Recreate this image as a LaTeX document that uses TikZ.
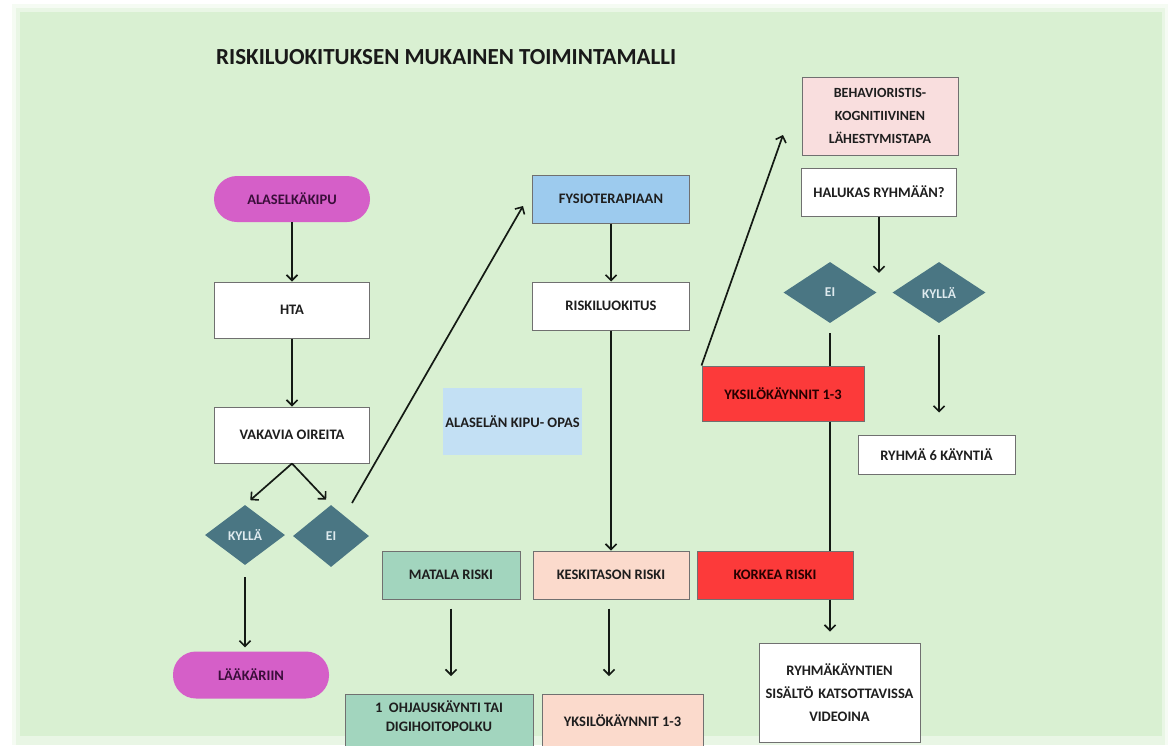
\documentclass[tikz,border=0pt]{standalone}
\usepackage{fontspec}
\setmainfont{Carlito}
\usetikzlibrary{arrows.meta,shapes.geometric,calc}
\definecolor{bggreen}{RGB}{217,240,210}
\definecolor{pillmag}{RGB}{213,95,200}
\definecolor{pilltext}{RGB}{58,14,58}
\definecolor{fysblue}{RGB}{157,203,238}
\definecolor{opasblue}{RGB}{195,224,244}
\definecolor{seagreen}{RGB}{162,213,190}
\definecolor{peach}{RGB}{251,218,204}
\definecolor{redbox}{RGB}{252,58,58}
\definecolor{pinkbox}{RGB}{249,222,222}
\definecolor{tealdia}{RGB}{74,118,131}
\definecolor{diatext}{RGB}{222,234,238}
\definecolor{boxline}{RGB}{112,112,112}
\definecolor{textdark}{RGB}{30,30,30}
\definecolor{linedark}{RGB}{20,26,20}
\begin{document}
\begin{tikzpicture}[x=1pt,y=-1pt,
  boxtxt/.style={font=\bfseries\fontsize{14.5}{19}\selectfont},
  stepbox/.style={boxtxt, draw=boxline, line width=1pt, fill=white, text=textdark, align=center, inner sep=2pt},
  pill/.style={boxtxt, fill=pillmag, text=pilltext, rounded corners=23pt, minimum width=156pt, minimum height=46pt, inner sep=0pt},
  dia/.style={diamond, fill=tealdia, text=diatext, font=\bfseries\fontsize{13.5}{15}\selectfont, inner sep=0pt},
  arr/.style={draw=linedark, line width=1.7pt, -{Straight Barb[length=5.5pt,width=11pt,line width=1.6pt]}},
  ln/.style={draw=linedark, line width=1.7pt}
]
\useasboundingbox (0,0) rectangle (1169,745);
\clip (0,0) rectangle (1169,745);
\fill[white] (0,0) rectangle (1169,745);
\fill[bggreen, opacity=0.25] (12,4) rectangle (1168,745);
\fill[bggreen, opacity=0.4] (16,8) rectangle (1165,745);
\fill[bggreen] (20,12) rectangle (1162,736);

% title
\node[anchor=west, font=\bfseries\fontsize{23}{27}\selectfont, text=black!90, inner sep=0pt] (title) at (216,57) {RISKILUOKITUKSEN MUKAINEN TOIMINTAMALLI};

% left column
\node[pill] (start) at (292,199) {ALASELKÄKIPU};
\node[stepbox, minimum width=155pt, minimum height=56pt] (hta) at (292,310) {HTA};
\node[stepbox, minimum width=155pt, minimum height=56pt] (vak) at (292,435) {VAKAVIA OIREITA};
\node[dia, minimum width=80pt, minimum height=60pt] (kyl1) at (245,535) {KYLLÄ};
\node[dia, minimum width=76pt, minimum height=62pt] (ei1) at (331,536) {EI};
\node[pill, minimum height=47pt] (laak) at (251,675) {LÄÄKÄRIIN};

% middle column
\node[stepbox, fill=fysblue, minimum width=157pt, minimum height=48pt] (fysio) at (611,199) {FYSIOTERAPIAAN};
\node[stepbox, minimum width=157pt, minimum height=48pt] (risk) at (611,306) {RISKILUOKITUS};
\node[boxtxt, fill=opasblue, text=textdark, minimum width=139pt, minimum height=67pt, inner sep=0pt] (opas) at (512.5,421.5) {ALASELÄN KIPU- OPAS};
\node[stepbox, fill=seagreen, minimum width=138pt, minimum height=48pt] (matala) at (451,575) {MATALA RISKI};
\node[stepbox, fill=peach, minimum width=156pt, minimum height=48pt] (kesk) at (611,575) {KESKITASON RISKI};
\node[stepbox, fill=redbox, text=black!85!red, minimum width=156pt, minimum height=48pt] (korkea) at (775,575) {KORKEA RISKI};
\node[stepbox, fill=seagreen, minimum width=188pt, minimum height=60pt, anchor=north] (ohj) at (439,694) {};
\node[boxtxt, text=textdark, align=center, anchor=north] (ohjtxt) at (439,697) {1\ \ OHJAUSKÄYNTI TAI\\DIGIHOITOPOLKU};
\node[stepbox, fill=peach, minimum width=161pt, minimum height=60pt, anchor=north] (yks2) at (622.5,694) {};
\node[boxtxt, text=textdark, anchor=center] (yks2txt) at (622.5,721) {YKSILÖKÄYNNIT 1-3};

% right column
\node[stepbox, fill=pinkbox, minimum width=156pt, minimum height=78pt, text width=150pt, font=\bfseries\fontsize{14}{23}\selectfont] (behav) at (880,116) {BEHAVIORISTIS-\\KOGNITIIVINEN\\LÄHESTYMISTAPA};
\node[stepbox, minimum width=155pt, minimum height=48pt] (halu) at (879,192) {HALUKAS RYHMÄÄN?};
\node[dia, minimum width=93pt, minimum height=61pt] (ei2) at (830,292.5) {EI};
\node[dia, minimum width=93pt, minimum height=61pt] (kyl2) at (939,292.5) {KYLLÄ};
\node[stepbox, fill=redbox, text=black!85!red, minimum width=162pt, minimum height=55pt] (yks1) at (783,393.5) {YKSILÖKÄYNNIT 1-3};
\node[stepbox, minimum width=157pt, minimum height=39pt] (ryhma6) at (936.5,454.5) {RYHMÄ 6 KÄYNTIÄ};
\node[stepbox, minimum width=161pt, minimum height=99pt, text width=155pt, font=\bfseries\fontsize{14.5}{23}\selectfont] (ryhmak) at (839.5,692.5) {RYHMÄKÄYNTIEN\\SISÄLTÖ KATSOTTAVISSA\\VIDEOINA};

% free ends
\coordinate (eistart) at (352,503);
\coordinate (fysin) at (523,206);
\coordinate (bhin) at (783,135);

% connectors left
\draw[arr] (start.south) -- (hta.north);
\draw[arr] (hta.south) -- (vak.north);
\draw[arr, shorten >=7pt] (vak.south) -- (kyl1.north);
\draw[arr, shorten >=7pt] (vak.south) -- (ei1.north);
\draw[arr, shorten <=12pt, shorten >=4pt] (kyl1.south) -- (kyl1.south |- laak.north);
\draw[arr] (eistart) -- (fysin);

% connectors middle
\draw[arr] (fysio.south) -- (risk.north);
\draw[arr] (risk.south) -- (kesk.north);
\draw[arr, shorten <=9pt, shorten >=18pt] (matala.south) -- (matala.south |- ohj.north);
\draw[arr, shorten <=9pt, shorten >=18pt] ([xshift=-2pt]kesk.south) -- ([xshift=-2pt]kesk.south |- yks2.north);

% connectors right
\draw[arr, shorten >=-11pt] (halu.south) -- (halu.south |- ei2.north);
\draw[ln, shorten <=10pt] (ei2.south) -- (ei2.south |- yks1.north);
\draw[ln] (yks1.south -| ei2.south) -- (korkea.north -| ei2.south);
\draw[arr, shorten >=11pt] (korkea.south -| ei2.south) -- (ryhmak.north -| ei2.south);
\draw[arr, shorten <=12pt, shorten >=22pt] (kyl2.south) -- (kyl2.south |- ryhma6.north);
\draw[arr] (yks1.north west) -- (bhin);
\end{tikzpicture}
\end{document}
